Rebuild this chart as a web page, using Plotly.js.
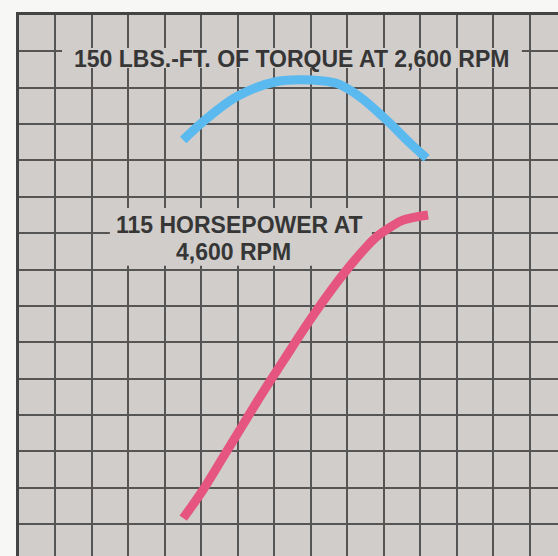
<!DOCTYPE html>
<html>
<head>
<meta charset="utf-8">
<script src="https://cdn.plot.ly/plotly-3.0.1.min.js"></script>
<style>html,body{margin:0;padding:0;background:#f7f7f5;}#chart{width:558px;height:556px;}</style>
</head>
<body>
<div id="chart"></div>
<script>
// Values, in grid-square units (x: across, y: up)
const torqueX = [4.50, 5.05, 5.96, 7.06, 8.06, 8.70, 9.34, 10.07, 10.71, 11.17];
const torqueY = [11.56, 12.07, 12.75, 13.17, 13.21, 13.12, 12.75, 12.11, 11.48, 11.06];
const hpX = [4.50, 5.05, 5.60, 6.15, 6.70, 7.25, 7.80, 8.35, 8.98, 9.50, 9.80, 10.20, 10.53, 11.21];
const hpY = [1.16, 1.95, 2.85, 3.75, 4.65, 5.50, 6.35, 7.15, 7.99, 8.60, 8.90, 9.18, 9.36, 9.50];
const torqueLabel = "150 LBS.-FT. OF TORQUE AT 2,600 RPM";
const hpLabel1 = "115 HORSEPOWER AT";
const hpLabel2 = "4,600 RPM";

const bg = '#d0cdcb';
const txtFont = {family: 'Liberation Sans, Arial, sans-serif', size: 23, color: '#363636', weight: 'bold'};
const traces = [
  {x: torqueX, y: torqueY, mode: 'lines', line: {color: '#5ab9ef', width: 9, shape: 'spline'}, hoverinfo: 'skip'},
  {x: hpX, y: hpY, mode: 'lines', line: {color: '#e5557f', width: 9, shape: 'spline'}, hoverinfo: 'skip'}
];
const layout = {
  width: 558, height: 556,
  margin: {l: 19, r: 0, t: 15, b: 0},
  paper_bgcolor: '#f7f7f5',
  plot_bgcolor: bg,
  showlegend: false,
  xaxis: {range: [0, 14.77], dtick: 1, tick0: 0, showgrid: true, gridcolor: '#555', gridwidth: 2,
          zeroline: false, showticklabels: false, ticks: '', side: 'top',
          showline: true, linecolor: '#444', linewidth: 3, fixedrange: true},
  yaxis: {range: [0.12, 15], dtick: 1, tick0: 0, showgrid: true, gridcolor: '#555', gridwidth: 2,
          zeroline: false, showticklabels: false, ticks: '',
          showline: true, linecolor: '#444', linewidth: 3, fixedrange: true},
  shapes: [
    {type: 'rect', layer: 'between', xref: 'x', yref: 'y', x0: 1.18, x1: 13.78, y0: 13.54, y1: 14.09,
     fillcolor: bg, line: {width: 0}},
    {type: 'rect', layer: 'between', xref: 'x', yref: 'y', x0: 2.49, x1: 9.67, y0: 8.10, y1: 9.69,
     fillcolor: bg, line: {width: 0}}
  ],
  annotations: [
    {x: 7.47, y: 13.80, xref: 'x', yref: 'y', text: torqueLabel, showarrow: false, font: txtFont},
    {x: 6.05, y: 9.23, xref: 'x', yref: 'y', text: hpLabel1, showarrow: false, font: txtFont},
    {x: 5.89, y: 8.49, xref: 'x', yref: 'y', text: hpLabel2, showarrow: false, font: txtFont}
  ]
};
Plotly.newPlot('chart', traces, layout, {displayModeBar: false, staticPlot: true});
</script>
</body>
</html>
